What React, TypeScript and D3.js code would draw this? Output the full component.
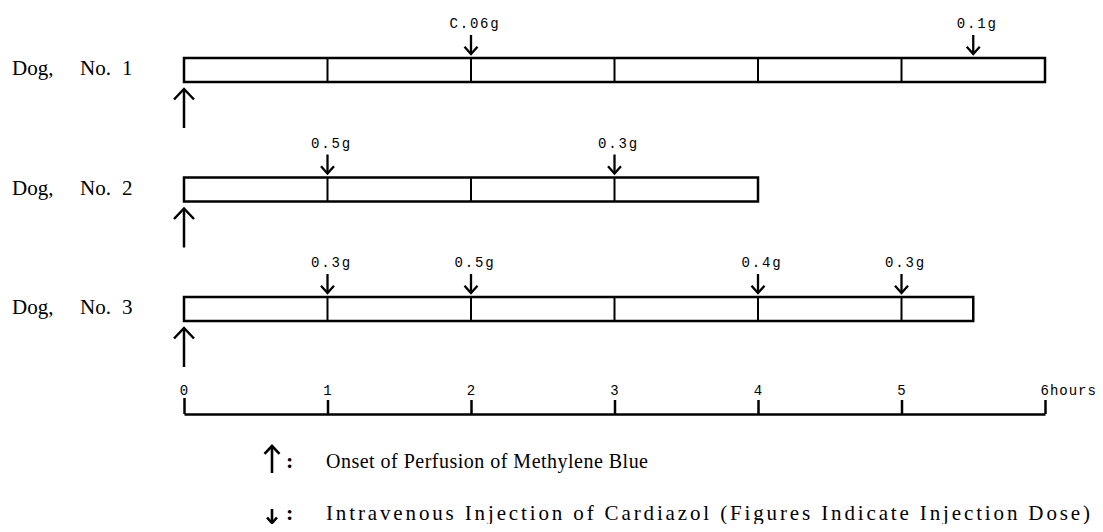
import React, { useEffect, useRef } from 'react'
import * as d3 from 'd3'

const dogs = ['Dog, No. 1', 'Dog, No. 2', 'Dog, No. 3']
const durations = [6, 4, 5.5]
const injectionHours = [[2, 5.5], [1, 3], [1, 2, 4, 5]]
const injectionDoses = [['C.06g', '0.1g'], ['0.5g', '0.3g'], ['0.3g', '0.5g', '0.4g', '0.3g']]
const hourTicks = [0, 1, 2, 3, 4, 5, 6]
const hourLabels = ['0', '1', '2', '3', '4', '5', '6hours']
const legendTexts = [
  'Onset of Perfusion of Methylene Blue',
  'Intravenous Injection of Cardiazol (Figures Indicate Injection Dose)',
]
const legendWidths = [322, 764]
const legendSizes = [20, 21]

const W = 1103
const H = 532
const serif = '"Liberation Serif", "DejaVu Serif", serif'
const mono = '"Liberation Mono", "DejaVu Sans Mono", monospace'

const App = () => {
  const svgRef = useRef<SVGSVGElement>(null)

  useEffect(() => {
    if (!svgRef.current) return
    const svg = d3.select(svgRef.current)
    svg.selectAll('*').remove()

    const x = d3.scaleLinear().domain([0, 6]).range([184, 1045])
    const y = d3.scalePoint<string>().domain(dogs).range([70, 309])
    const barH = 24

    const upArrow = (g: any, cx: number, top: number, len: number, head: number, sw: number) => {
      g.append('line')
        .attr('x1', cx).attr('x2', cx)
        .attr('y1', top + 1).attr('y2', top + len)
        .attr('stroke', '#000').attr('stroke-width', sw)
      g.append('path')
        .attr('d', `M${cx - head},${top + head * 1.05} L${cx},${top} L${cx + head},${top + head * 1.05}`)
        .attr('fill', 'none').attr('stroke', '#000').attr('stroke-width', sw)
    }
    const downArrow = (g: any, cx: number, tip: number, len: number, head: number, sw: number) => {
      g.append('line')
        .attr('x1', cx).attr('x2', cx)
        .attr('y1', tip - len).attr('y2', tip - 1)
        .attr('stroke', '#000').attr('stroke-width', sw)
      g.append('path')
        .attr('d', `M${cx - head},${tip - head * 1.1} L${cx},${tip} L${cx + head},${tip - head * 1.1}`)
        .attr('fill', 'none').attr('stroke', '#000').attr('stroke-width', sw)
    }

    dogs.forEach((dog, i) => {
      const cy = y(dog) as number
      const top = cy - barH / 2
      const g = svg.append('g')

      // "Dog," / "No." / number set apart like the print
      const [left, right] = dog.split(', ')
      const [no, num] = right.split(' ')
      const lbl = g.append('text')
        .attr('y', cy + 5)
        .attr('font-family', serif).attr('font-size', 21)
      lbl.append('tspan').attr('x', 12).text(left + ',')
      lbl.append('tspan').attr('x', 80).text(no)
      lbl.append('tspan').attr('x', 122).text(num)

      g.append('rect')
        .attr('x', x(0)).attr('y', top)
        .attr('width', x(durations[i]) - x(0)).attr('height', barH)
        .attr('fill', 'none').attr('stroke', '#000').attr('stroke-width', 2.5)

      d3.range(1, Math.ceil(durations[i])).forEach((h) => {
        g.append('line')
          .attr('x1', x(h)).attr('x2', x(h))
          .attr('y1', top).attr('y2', top + barH)
          .attr('stroke', '#000').attr('stroke-width', 2)
      })

      upArrow(g, x(0), top + barH + 7, 39, 10, 2.5)

      injectionHours[i].forEach((h, j) => {
        downArrow(g, x(h), top - 4, 19, 6.5, 2.3)
        g.append('text')
          .attr('x', x(h) + 4).attr('y', top - 30)
          .attr('text-anchor', 'middle')
          .attr('font-family', mono).attr('font-size', 14)
          .attr('letter-spacing', 1.8)
          .text(injectionDoses[i][j])
      })
    })

    // hour axis
    const axisY = 414
    const axis = svg.append('g')
      .attr('transform', `translate(0,${axisY})`)
      .call(
        d3.axisTop(x)
          .tickValues(hourTicks)
          .tickSize(14)
          .tickSizeOuter(0)
          .tickPadding(5)
          .tickFormat((d, i) => hourLabels[i]),
      )
    axis.select('.domain').attr('stroke', '#000').attr('stroke-width', 2.5)
    axis.selectAll('.tick line').attr('stroke', '#000').attr('stroke-width', 2.5)
    axis.selectAll('.tick text')
      .attr('font-family', mono).attr('font-size', 14).attr('fill', '#000')
      .attr('letter-spacing', 1)
    axis.selectAll('.tick').filter((d: any) => d === 0).select('line').attr('y2', -16)
    axis.selectAll('.tick').filter((d: any) => d === 6).select('text')
      .attr('text-anchor', 'start').attr('dx', -5)

    // legend
    const lg = svg.append('g')
    const legendY = [462, 514]
    upArrow(lg, 272, 446, 27, 7.5, 2.6)
    downArrow(lg, 272, 523, 14, 5, 2.6)
    legendY.forEach((ly, i) => {
      lg.append('text')
        .attr('x', 286).attr('y', ly + 6)
        .attr('font-family', serif).attr('font-size', 22).attr('font-weight', 'bold')
        .text(':')
      lg.append('text')
        .attr('x', 326).attr('y', ly + 6)
        .attr('font-family', serif).attr('font-size', legendSizes[i])
        .attr('textLength', legendWidths[i])
        .attr('lengthAdjust', 'spacing')
        .text(legendTexts[i])
    })
  }, [])

  return <svg ref={svgRef} width={W} height={H} style={{ display: 'block', margin: -8, background: '#fff' }} />
}

export default App
